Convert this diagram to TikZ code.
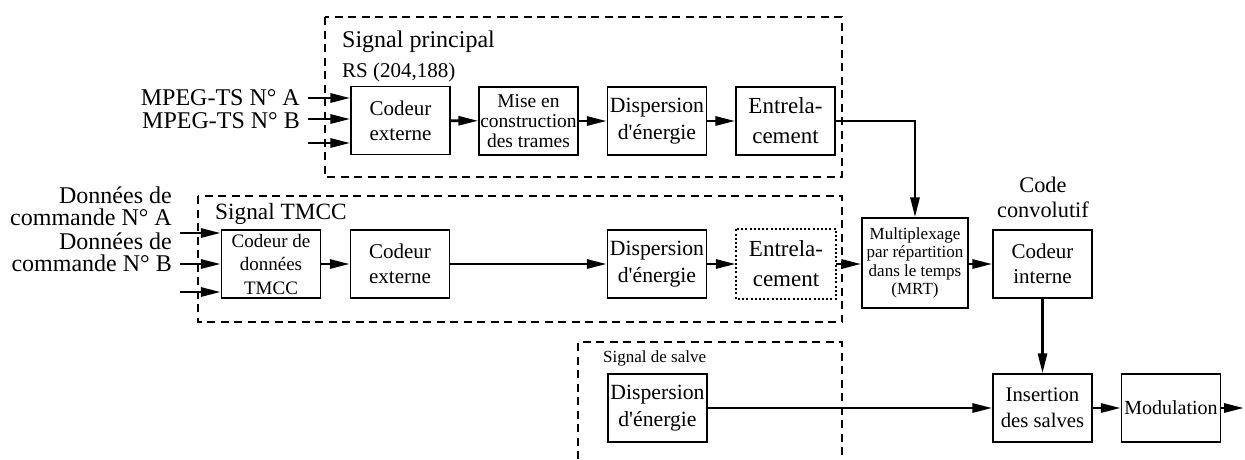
\documentclass[tikz,border=0pt]{standalone}
\usepackage{fontspec}
\setmainfont{Liberation Serif}[Ligatures=TeXOff]
\usetikzlibrary{arrows.meta}
\newcommand{\fs}[2]{\fontsize{#1}{#2}\selectfont}
\begin{document}
\begin{tikzpicture}[x=1pt,y=-1pt,
  blk/.style={draw,line width=1.3pt,rectangle,inner sep=0pt,align=center,minimum width=99pt,minimum height=68pt},
  arr/.style={line width=2.9pt,-{Triangle[length=20pt,width=9pt]}},
  grp/.style={line width=2.2pt,dash pattern=on 8pt off 5.5pt},
  lbl/.style={inner sep=0pt}]
\useasboundingbox (0,0) rectangle (1245,459);
% group frames
\draw[grp] (325,17) rectangle (842,177);
\draw[grp] (198,196) rectangle (842,322);
\draw[grp] (578,459) -- (578,342) -- (842,342) -- (842,459);
% group labels
\node[lbl,anchor=base west,font=\fs{24}{28}] (tp) at (342,47) {Signal principal};
\node[lbl,anchor=base west,font=\fs{21}{25}] (trs) at (342,77) {RS (204,188)};
\node[lbl,anchor=base west,font=\fs{23.3}{28}] (tt) at (215,219) {Signal TMCC};
\node[lbl,anchor=base west,font=\fs{17}{20}] (ts) at (603,362) {Signal de salve};
% main chain
\node[blk,font=\fs{21}{25}] (ce1) at (400.5,120.5) {Codeur\\externe};
\node[blk,font=\fs{19.5}{20}] (mise) at (528.5,121) {Mise en\\construction\\des trames};
\node[blk,font=\fs{21.7}{27}] (d1) at (657,121) {Dispersion\\d'énergie};
\node[blk,font=\fs{23}{30}] (e1) at (785.5,121) {Entrela-\\cement};
% TMCC chain
\node[blk,font=\fs{19}{23.5}] (cdt) at (271,264) {Codeur de\\données\\TMCC};
\node[blk,font=\fs{21}{25}] (ce2) at (400,264) {Codeur\\externe};
\node[blk,font=\fs{21.7}{27}] (d2) at (657,264) {Dispersion\\d'énergie};
\node[blk,font=\fs{23}{30},draw=none] (e2) at (786,264) {Entrela-\\cement};
\draw[line width=2pt,dash pattern=on 2pt off 2.2pt] (e2.north west) rectangle (e2.south east);
% right part
\node[blk,font=\fs{17}{18.3},minimum width=106pt,minimum height=90pt] (mrt) at (915,263) {Multiplexage\\par répartition\\dans le temps\\(MRT)};
\node[blk,font=\fs{21}{25}] (ci) at (1042.5,264) {Codeur\\interne};
\node[lbl,align=center,anchor=base,font=\fs{22.3}{25}] (cc) at (1043,217) {Code\\convolutif};
\node[blk,font=\fs{20.7}{26}] (ins) at (1042.5,408) {Insertion\\des salves};
\node[blk,font=\fs{20}{24}] (mod) at (1171,408) {Modulation};
\node[blk,font=\fs{21.7}{27}] (d3) at (657.5,408) {Dispersion\\d'énergie};
% input labels
\node[lbl,anchor=base east,font=\fs{24}{28}] (ma) at (300,105) {MPEG-TS N° A};
\node[lbl,anchor=base east,font=\fs{24}{28}] (mb) at (300,128) {MPEG-TS N° B};
\node[lbl,anchor=base east,align=right,font=\fs{24}{22}] (da) at (172,225) {Données de\\commande N° A};
\node[lbl,anchor=base east,align=right,font=\fs{24}{22}] (db) at (172,271) {Données de\\commande N° B};
% input coordinates
\coordinate (i1) at (308,98);
\coordinate (i2) at (308,119);
\coordinate (i3) at (308,143);
\coordinate (j1) at (180,233);
\coordinate (j2) at (180,264);
\coordinate (j3) at (180,292);
\coordinate (out) at (1244,408);
% connectors
\draw[arr] (i1) -- (i1 -| ce1.west);
\draw[arr] (i2) -- (i2 -| ce1.west);
\draw[arr] (i3) -- (i3 -| ce1.west);
\draw[arr] (ce1) -- (mise);
\draw[arr] (mise) -- (d1);
\draw[arr] (d1) -- (e1);
\draw[arr] (e1.east) -| (mrt.north);
\draw[arr] (j1) -- (j1 -| cdt.west);
\draw[arr] (j2) -- (j2 -| cdt.west);
\draw[arr] (j3) -- (j3 -| cdt.west);
\draw[arr] (cdt) -- (ce2);
\draw[arr] (ce2) -- (d2);
\draw[arr] (d2) -- (e2);
\draw[arr] (e2.east) -- (e2.east -| mrt.west);
\draw[arr] (mrt.east |- ci.west) -- (ci.west);
\draw[arr] (ci) -- (ins);
\draw[arr] (d3) -- (ins);
\draw[arr] (ins) -- (mod);
\draw[arr] (mod) -- (out);
\end{tikzpicture}
\end{document}
